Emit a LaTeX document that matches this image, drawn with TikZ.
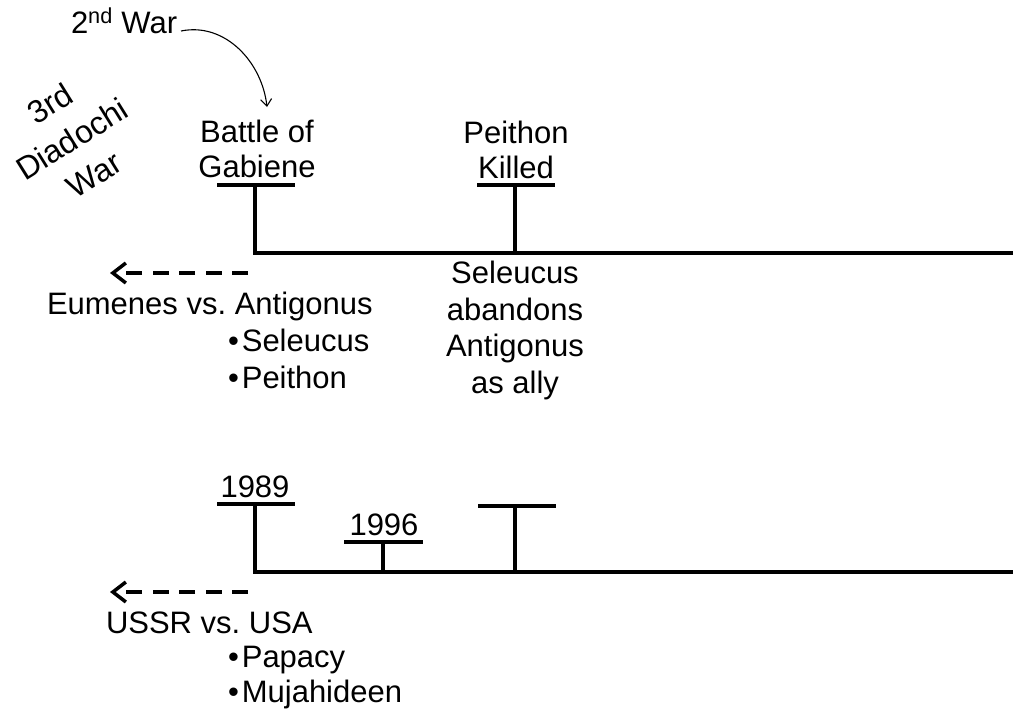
\documentclass[tikz,border=0pt]{standalone}
\usepackage{fontspec}
\setmainfont{Liberation Sans}
\usetikzlibrary{arrows.meta}
\frenchspacing
\begin{document}
\begin{tikzpicture}[x=1pt,y=-1pt,
  every node/.style={inner sep=0pt, outer sep=0pt, font=\fontsize{31}{35}\selectfont},
  lbl/.style={anchor=base, align=center},
  rule/.style={line width=3.5pt},
  axis/.style={line width=3.5pt, line join=miter},
  back/.style={line width=3.5pt, dash pattern=on 16pt off 10.5pt,
    -{Straight Barb[length=13pt,width=20pt,line width=3.5pt]}},
  note/.style={line width=1.1pt, -{Straight Barb[length=7pt,width=11pt]}}]
\useasboundingbox (0,0) rectangle (1013,713);

% ---------- upper timeline: the third war of the Diadochi ----------
\coordinate (u0)   at (255,253);
\coordinate (uend) at (1013,253);
\coordinate (u1)   at (515,253);
\coordinate (gabT) at (255,185);
\coordinate (gabL) at (217,185);
\coordinate (gabR) at (295,185);
\coordinate (peiT) at (515,185);
\coordinate (peiL) at (477,185);
\coordinate (peiR) at (555,185);

\draw[axis] (gabT) -- (u0) -- (uend);
\draw[rule] (gabL) -- (gabR);
\draw[rule] (peiT) -- (u1);
\draw[rule] (peiL) -- (peiR);

% multi-line labels are placed by the baseline of their last line
\node[lbl] (gab) at (257,177) {Battle of\\Gabiene};
\node[lbl] (pei) at (516,178) {Peithon\\Killed};
\node[lbl, font=\fontsize{31}{36.5}\selectfont] (sel) at (515,393)
  {Seleucus\\abandons\\Antigonus\\as ally};

\node[rotate=32, align=center, font=\fontsize{32}{42}\selectfont] (war3) at (72,139)
  {3rd\\Diadochi\\War};

\node[anchor=base west] (war2) at (71,33) {2\textsuperscript{nd} War};
\coordinate (noteS) at (181,31);
\coordinate (noteE) at (267,107);
\draw[note] (noteS) .. controls (225,22) and (262,62) .. (noteE);

\coordinate (uarrS) at (248,273);
\coordinate (uarrE) at (110,273);
\draw[back] (uarrS) -- (uarrE);

\node[anchor=base west] (eum) at (47,314) {Eumenes vs. Antigonus};
\node[anchor=base west] (s1) at (228,351) {•\hspace{3pt}Seleucus};
\node[anchor=base west] (s2) at (228,388) {•\hspace{3pt}Peithon};

% ---------- lower timeline: the Cold War ----------
\coordinate (l0)   at (255,572);
\coordinate (lend) at (1013,572);
\coordinate (l1)   at (383,572);
\coordinate (l2)   at (515,572);
\coordinate (aT)   at (255,504);
\coordinate (aL)   at (217,504);
\coordinate (aR)   at (295,504);
\coordinate (bT)   at (383,542);
\coordinate (bL)   at (344,542);
\coordinate (bR)   at (423,542);
\coordinate (cT)   at (515,506);
\coordinate (cL)   at (478,506);
\coordinate (cR)   at (556,506);

\draw[axis] (aT) -- (l0) -- (lend);
\draw[rule] (aL) -- (aR);
\draw[rule] (bT) -- (l1);
\draw[rule] (bL) -- (bR);
\draw[rule] (cT) -- (l2);
\draw[rule] (cL) -- (cR);

\node[lbl] (y89) at (255,497) {1989};
\node[lbl] (y96) at (384,535) {1996};

\coordinate (larrS) at (248,592);
\coordinate (larrE) at (110,592);
\draw[back] (larrS) -- (larrE);

\node[anchor=base west] (cold) at (106,633) {USSR vs. USA};
\node[anchor=base west] (p1) at (228,667) {•\hspace{3pt}Papacy};
\node[anchor=base west] (p2) at (228,702) {•\hspace{3pt}Mujahideen};
\end{tikzpicture}
\end{document}
